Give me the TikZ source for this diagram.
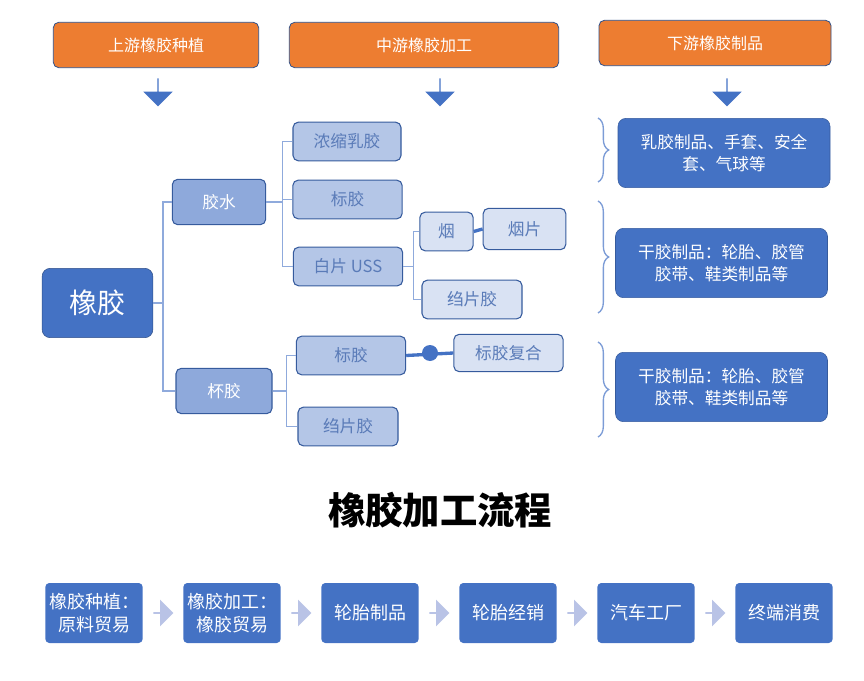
\documentclass[tikz,border=0pt]{standalone}
\usepackage{fontspec}
\setmainfont{Noto Sans CJK SC}
\usetikzlibrary{positioning, calc, shapes.arrows, decorations.pathreplacing}
\definecolor{hdr}{HTML}{ED7D31}
\definecolor{dblue}{HTML}{4472C4}
\definecolor{mblue}{HTML}{8EA9DB}
\definecolor{lblue}{HTML}{B4C6E7}
\definecolor{pblue}{HTML}{D9E2F3}
\definecolor{ltext}{HTML}{5A7BB8}
\definecolor{chev}{HTML}{B9C3E6}
\tikzset{
    hbox/.style={draw=dblue!70!black, fill=hdr, rounded corners=4pt, text=white, font=\fontsize{12}{14}\selectfont, line width=0.6pt},
    lvA/.style={draw=dblue!80!black, fill=mblue, rounded corners=4pt, text=white, font=\fontsize{12.5}{14}\selectfont, line width=0.8pt},
    lvB/.style={draw=dblue!80!black, fill=lblue, rounded corners=4pt, text=ltext, font=\fontsize{12.5}{14}\selectfont, line width=0.8pt},
    lvC/.style={draw=dblue!80!black, fill=pblue, rounded corners=4pt, text=ltext, font=\fontsize{12.5}{14}\selectfont, line width=0.8pt},
    prod/.style={draw=dblue!80!black, fill=dblue, rounded corners=6pt, text=white, align=center, font=\fontsize{12.5}{17}\selectfont, minimum width=159pt, minimum height=52pt},
    stepbox/.style={fill=dblue, rounded corners=3pt, text=white, align=center, font=\fontsize{13.5}{17}\selectfont, minimum width=73pt, minimum height=45pt, inner sep=0pt},
    dn/.style={single arrow, fill=dblue, shape border rotate=270, minimum height=21pt, minimum width=22pt, single arrow head extend=4pt, inner sep=0pt},
    nx/.style={single arrow, fill=chev, minimum height=15pt, minimum width=20pt, single arrow head extend=3pt, inner sep=0pt},
    link/.style={draw=dblue!60, line width=1pt},
    brc/.style={draw=dblue!70, line width=1pt, decorate, decoration={brace, amplitude=8pt}}
}
\begin{document}
\begin{tikzpicture}[x=0.75pt, y=-0.75pt]
    \useasboundingbox (0,0) rectangle (864,681);
    % headers
    \node[hbox, minimum width=154pt, minimum height=34pt] (up) at (156,45) {上游橡胶种植};
    \node[hbox, minimum width=202pt, minimum height=34pt] (mid) at (424,45) {中游橡胶加工};
    \node[hbox, minimum width=174pt, minimum height=34pt] (down) at (715,43) {下游橡胶制品};
    \node[dn] (a1) at (158,92) {};
    \node[dn] (a2) at (440,92) {};
    \node[dn] (a3) at (727,92) {};
    % tree
    \node[draw=dblue!70!black, fill=dblue, rounded corners=6pt, text=white, font=\fontsize{21}{24}\selectfont, minimum width=83pt, minimum height=52pt] (root) at (97.5,303) {橡胶};
    \node[lvA, minimum width=70pt, minimum height=34pt] (jsh) at (219,202) {胶水};
    \node[lvA, minimum width=72pt, minimum height=34pt] (bj) at (224,391) {杯胶};
    \node[lvB, minimum width=81pt, minimum height=29pt] (nsr) at (347,141.5) {浓缩乳胶};
    \node[lvB, minimum width=82pt, minimum height=29pt] (bj1) at (347.5,199.5) {标胶};
    \node[lvB, minimum width=82pt, minimum height=29pt] (bp) at (348,266.5) {白片 USS};
    \node[lvB, minimum width=82pt, minimum height=29pt] (bj2) at (351,355.5) {标胶};
    \node[lvB, minimum width=75pt, minimum height=29pt] (zp1) at (348,426.5) {绉片胶};
    \node[lvC, minimum width=40pt, minimum height=29pt] (yan) at (446.5,231.5) {烟};
    \node[lvC, minimum width=62pt, minimum height=31pt] (yp) at (524.5,229) {烟片};
    \node[lvC, minimum width=75pt, minimum height=29pt] (zp2) at (472,299.5) {绉片胶};
    \node[lvC, minimum width=82pt, minimum height=28pt] (fh) at (508.5,353) {标胶复合};
    % links
    \draw[link] (root.east) -- ++(10,0) coordinate (k0);
    \draw[link] (jsh.west) -| (k0) |- (bj.west);
    \draw[link] (jsh.east) -- ++(16,0) coordinate (k1);
    \draw[link] (nsr.west) -| (k1) |- (bp.west);
    \draw[link] (bj1.west) -- (k1 |- bj1.west);
    \draw[link] (bp.east) -- ++(10,0) coordinate (k2);
    \draw[link] (yan.west) -| (k2) |- (zp2.west);
    \draw[link] (bj.east) -- ++(14,0) coordinate (k3);
    \draw[link] (bj2.west) -| (k3) |- (zp1.west);
    \draw[dblue, line width=2.5pt] (yan.east) -- (yp.west);
    \draw[dblue, line width=2.5pt] (bj2.east) -- (fh.west);
    \fill[dblue] (430,353) circle[radius=8] coordinate (dot);
    % products
    \coordinate (b1t) at (598,118); \coordinate (b1b) at (598,182);
    \coordinate (b2t) at (598,201); \coordinate (b2b) at (598,313);
    \coordinate (b3t) at (598,342); \coordinate (b3b) at (598,437);
    \draw[brc] (b1t) -- (b1b);
    \draw[brc] (b2t) -- (b2b);
    \draw[brc] (b3t) -- (b3b);
    \node[prod] (p1) at (724,153) {乳胶制品、手套、安全\\套、气球等};
    \node[prod] (p2) at (721.5,263) {干胶制品：轮胎、胶管\\胶带、鞋类制品等};
    \node[prod] (p3) at (721.5,387) {干胶制品：轮胎、胶管\\胶带、鞋类制品等};
    % title
    \node[font=\bfseries\fontsize{28}{32}\selectfont] (ttl) at (440,510) {橡胶加工流程};
    % chain
    \node[stepbox] (s1) at (94,613) {橡胶种植：\\原料贸易};
    \node[stepbox] (s2) at (232,613) {橡胶加工：\\橡胶贸易};
    \node[stepbox] (s3) at (370,613) {轮胎制品};
    \node[stepbox] (s4) at (508,613) {轮胎经销};
    \node[stepbox] (s5) at (646,613) {汽车工厂};
    \node[stepbox] (s6) at (784,613) {终端消费};
    \foreach \a/\b in {s1/s2, s2/s3, s3/s4, s4/s5, s5/s6}
        \node[nx] at ($(\a.east)!0.5!(\b.west)$) {};
\end{tikzpicture}
\end{document}
